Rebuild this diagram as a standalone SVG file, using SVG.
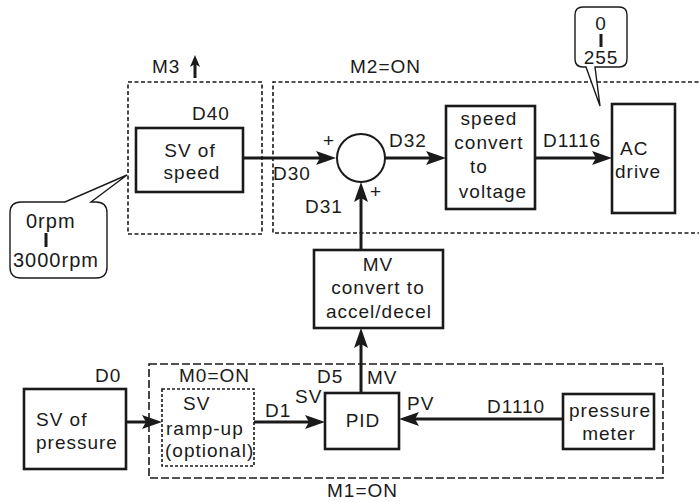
<svg xmlns="http://www.w3.org/2000/svg" width="699" height="502" viewBox="0 0 699 502">
<style>
text{font-family:"Liberation Sans",Arial,sans-serif;font-size:19px;fill:#1a1a1a;letter-spacing:1px}
.c{text-anchor:middle}
.box{fill:#fff;stroke:#1a1a1a;stroke-width:2.6}
.grp{fill:none;stroke:#1a1a1a;stroke-width:1.6;stroke-dasharray:4 2.5}
.grp2{fill:none;stroke:#1a1a1a;stroke-width:1.6;stroke-dasharray:8 3}
.dot{fill:none;stroke:#1a1a1a;stroke-width:1.6;stroke-dasharray:3 2}
.call{fill:#fff;stroke:#1a1a1a;stroke-width:1.4}
.ln{fill:none;stroke:#1a1a1a;stroke-width:3}
.big{font-size:20px}
</style>
<defs>
<marker id="ah" markerUnits="userSpaceOnUse" markerWidth="20" markerHeight="14" viewBox="0 0 20 14" refX="12" refY="7" orient="auto">
<path d="M0,0 L20,7 L0,14 L4,7 Z" fill="#1a1a1a"/>
</marker>
<marker id="ahs" markerUnits="userSpaceOnUse" markerWidth="12" markerHeight="10" viewBox="0 0 12 10" refX="6" refY="5" orient="auto">
<path d="M0,0 L12,5 L0,10 L3,5 Z" fill="#1a1a1a"/>
</marker>
</defs>
<rect width="699" height="502" fill="#fff"/>

<g id="group-M3">
<rect class="grp" x="128" y="82" width="134" height="152"/>
<text x="152" y="73">M3</text>
</g>
<g id="group-M2">
<path class="grp" d="M705,82 H273 V233 H705"/>
<text x="350" y="73">M2=ON</text>
</g>
<g id="group-M1">
<rect class="grp2" x="149" y="364" width="514" height="114"/>
<text x="327" y="497">M1=ON</text>
</g>

<g id="connectors">
<line class="ln" x1="243" y1="158" x2="328" y2="158" marker-end="url(#ah)"/>
<line class="ln" x1="385" y1="158" x2="438" y2="158" marker-end="url(#ah)"/>
<line class="ln" x1="535" y1="158" x2="604" y2="158" marker-end="url(#ah)"/>
<line class="ln" x1="361" y1="250" x2="361" y2="190" marker-end="url(#ah)"/>
<line class="ln" x1="361" y1="393" x2="361" y2="336" marker-end="url(#ah)"/>
<line class="ln" x1="126" y1="422" x2="154" y2="422" marker-end="url(#ah)"/>
<line class="ln" x1="254" y1="422" x2="317" y2="422" marker-end="url(#ah)"/>
<line class="ln" x1="563" y1="419" x2="407" y2="419" marker-end="url(#ah)"/>
<line class="ln" x1="195" y1="78" x2="195" y2="61" marker-end="url(#ahs)"/>
</g>

<g id="node-sv-speed">
<rect class="box" x="136" y="128" width="107" height="64"/>
<text class="c" x="190" y="157">SV of</text>
<text class="c" x="192" y="179">speed</text>
<text x="192" y="120">D40</text>
</g>

<g id="callout-rpm">
<path class="call" d="M21,202 H65 L127,175 L91,202 H96 Q107,202 107,213 V267 Q107,278 96,278 H21 Q10,278 10,267 V213 Q10,202 21,202 Z"/>
<text class="big" x="26" y="228">0rpm</text>
<line x1="46" y1="233" x2="46" y2="247" stroke="#1a1a1a" stroke-width="3"/>
<text class="big" x="13" y="267">3000rpm</text>
</g>

<g id="node-sum">
<circle cx="361" cy="158" r="24" fill="#fff" stroke="#1a1a1a" stroke-width="2"/>
<text x="323" y="147">+</text>
<text x="370" y="198">+</text>
<text x="273" y="180">D30</text>
<text x="305" y="213">D31</text>
<text x="389" y="147">D32</text>
</g>

<g id="node-speed-convert">
<rect class="box" x="446" y="106" width="89" height="103"/>
<text class="c" x="489" y="125">speed</text>
<text class="c" x="489" y="149">convert</text>
<text class="c" x="479" y="173">to</text>
<text class="c" x="493" y="198">voltage</text>
<text x="543" y="147">D1116</text>
</g>

<g id="node-ac-drive">
<rect class="box" x="612" y="104" width="63" height="109"/>
<text x="620" y="155">AC</text>
<text x="615" y="178">drive</text>
</g>

<g id="callout-255">
<path class="call" d="M583,7 H619 Q627,7 627,15 V59 Q627,67 619,67 H595 L600,106 L586,67 H583 Q575,67 575,59 V15 Q575,7 583,7 Z"/>
<text class="c" x="601" y="30">0</text>
<line x1="601" y1="34" x2="601" y2="47" stroke="#1a1a1a" stroke-width="3"/>
<text class="c" x="601" y="64">255</text>
</g>

<g id="node-mv-convert">
<rect class="box" x="314" y="250" width="129" height="78"/>
<text class="c" x="378" y="271">MV</text>
<text class="c" x="378" y="294">convert to</text>
<text class="c" x="379" y="318">accel/decel</text>
</g>

<g id="node-sv-pressure">
<rect class="box" x="24" y="389" width="102" height="80"/>
<text x="36" y="426">SV of</text>
<text x="36" y="449">pressure</text>
<text x="95" y="382">D0</text>
</g>

<g id="node-ramp-up">
<rect class="dot" x="162" y="389" width="92" height="77"/>
<text x="179" y="382">M0=ON</text>
<text x="183" y="410">SV</text>
<text x="166" y="435">ramp-up</text>
<text x="165" y="457">(optional)</text>
<text x="265" y="417">D1</text>
</g>

<g id="node-pid">
<rect class="box" x="325" y="393" width="74" height="56"/>
<text class="c" x="363" y="427">PID</text>
<text x="295" y="403">SV</text>
<text x="317" y="383">D5</text>
<text x="367" y="384">MV</text>
<text x="407" y="410">PV</text>
</g>

<g id="node-pressure-meter">
<rect class="box" x="563" y="394" width="91" height="55"/>
<text class="c" x="610" y="417">pressure</text>
<text class="c" x="609" y="440">meter</text>
<text x="487" y="413">D1110</text>
</g>
</svg>
